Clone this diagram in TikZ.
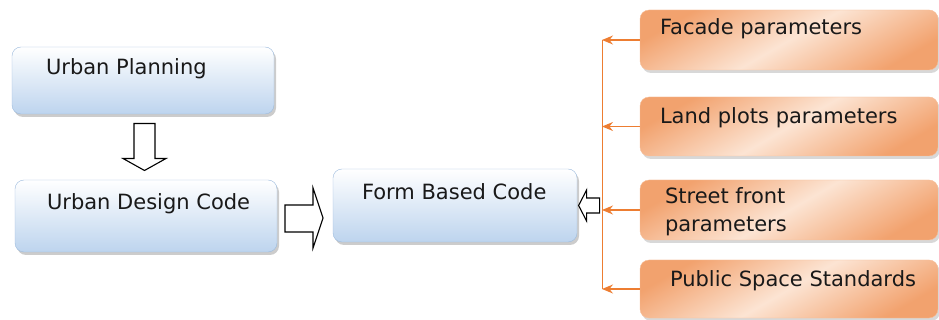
\documentclass[tikz,border=0pt]{standalone}
\usepackage{fontspec}
\setmainfont{DejaVu Sans}
\usepackage{xcolor}
\usetikzlibrary{positioning,calc,shadows,arrows.meta}
\definecolor{boxblue}{HTML}{BDD4EE}
\definecolor{edgeblue}{HTML}{9DBBDD}
\definecolor{boxorange}{HTML}{F2A26E}
\definecolor{boxpeach}{HTML}{FCE4D3}
\definecolor{linkorange}{HTML}{ED7D31}
\begin{document}
\begin{tikzpicture}[x=1pt,y=1pt,
    bluebox/.style={draw=edgeblue, rounded corners=9pt, top color=white,
      bottom color=boxblue,
      drop shadow={shadow xshift=2pt, shadow yshift=-3pt, fill=black!40}},
    orangebox/.style={draw=boxorange!70, rounded corners=9pt,
      top color=boxorange, bottom color=boxorange, middle color=boxpeach,
      shading angle=30,
      drop shadow={shadow xshift=2pt, shadow yshift=-3pt, fill=black!30}},
    boxtext/.style={font=\fontsize{21}{28}\selectfont, anchor=base west,
      inner sep=0pt, align=left, text=black!90},
    hollow/.style={draw=black, fill=white, line width=1.1pt},
    feed/.style={draw=linkorange, line width=1.2pt,
      -{Stealth[length=11pt,width=9pt]}}]
  % the page keeps the size of the reference
  \useasboundingbox (0,0) rectangle (939,-320);
  % left column : the two blue boxes
  \node[bluebox, minimum width=262pt, minimum height=67pt] (plan) at (143,-80.5) {};
  \node[boxtext] (plantext) at ([shift={(34pt,-28pt)}]plan.north west) {Urban Planning};
  \node[bluebox, minimum width=262pt, minimum height=72pt] (design) at (146,-216) {};
  \node[boxtext] (designtext) at ([shift={(32pt,-30pt)}]design.north west) {Urban Design Code};
  % the box in the middle
  \node[bluebox, minimum width=244pt, minimum height=73pt] (form) at (455,-205.5) {};
  \node[boxtext] (formtext) at ([shift={(29pt,-31pt)}]form.north west) {Form Based Code};
  % right column : the orange parameter boxes
  \node[orangebox, minimum width=298pt, minimum height=60pt] (facade) at (789,-40) {};
  \node[boxtext] (facadetext) at ([shift={(20pt,-25pt)}]facade.north west) {Facade parameters};
  \node[orangebox, minimum width=298pt, minimum height=59pt] (plots) at (789,-126.5) {};
  \node[boxtext] (plotstext) at ([shift={(20pt,-27pt)}]plots.north west) {Land plots parameters};
  \node[orangebox, minimum width=298pt, minimum height=60pt] (street) at (789,-210) {};
  % base of a two line node is the last line
  \node[boxtext] (streettext) at ([shift={(25pt,-52pt)}]street.north west) {Street front\\parameters};
  \node[orangebox, minimum width=298pt, minimum height=58pt] (public) at (789,-289) {};
  \node[boxtext] (publictext) at ([shift={(30pt,-27pt)}]public.north west) {Public Space Standards};
  % the orange spine and its arrows
  \coordinate (spine) at (602,-43);
  \draw[linkorange, line width=1pt] (facade.west -| spine) -- (public.west -| spine);
  \foreach \p in {facade,plots,street,public}
    \draw[feed] (\p.west) -- (\p.west -| spine);
  % hollow block arrows
  \begin{scope}[shift={($(plan.south)!0.5!(design.north)$)}]
    \draw[hollow] (-10.5,23.5) -- (10.5,23.5) -- (10.5,-11.5) -- (21.5,-11.5)
      -- (0,-23.5) -- (-21.5,-11.5) -- (-10.5,-11.5) -- cycle;
  \end{scope}
  \begin{scope}[shift={($(design.east)!0.5!(form.west |- design.east)$)}]
    \draw[hollow] (-20,11) -- (8,11) -- (8,28) -- (18,-2) -- (8,-32)
      -- (8,-16) -- (-20,-16) -- cycle;
  \end{scope}
  \begin{scope}[shift={($(form.east)!0.5!(spine |- form.east)$)}]
    \draw[hollow] (10,7.5) -- (-3,7.5) -- (-3,15.5) -- (-11,0) -- (-3,-15.5)
      -- (-3,-7.5) -- (10,-7.5) -- cycle;
  \end{scope}
\end{tikzpicture}
\end{document}
